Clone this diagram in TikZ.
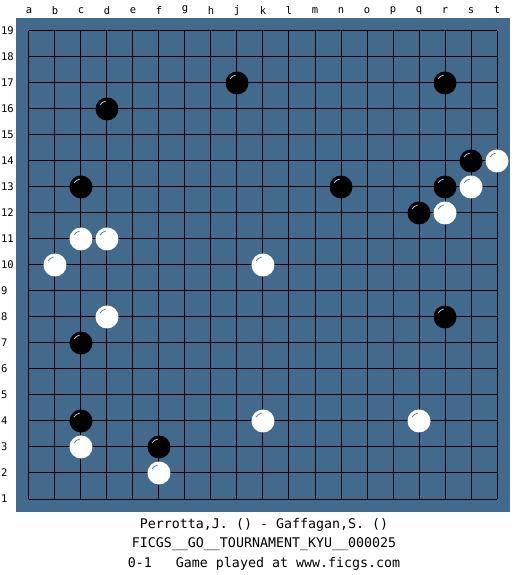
\documentclass[tikz,border=0pt]{standalone}
\usepackage{fontspec}
\setmonofont{DejaVu Sans Mono}
\definecolor{board}{RGB}{66,106,140}
\definecolor{shine}{RGB}{170,190,210}

\begin{document}
\begin{tikzpicture}[x=26pt, y=26pt]
    % Define styles
    \tikzstyle{stone} = [circle, minimum size=23pt, inner sep=0pt]
    \tikzstyle{black stone} = [stone, fill=black,
        path picture={\draw[shine, line width=0.9pt] (path picture bounding box.center)
            ++(100:8pt) arc[start angle=100, end angle=150, radius=8pt];}]
    \tikzstyle{white stone} = [stone, fill=white,
        path picture={\draw[board!80, line width=0.9pt] (path picture bounding box.center)
            ++(100:8pt) arc[start angle=100, end angle=150, radius=8pt];}]
    \tikzstyle{grid line} = [draw, black, line width=1pt]
    \tikzstyle{coord label} = [font=\ttfamily\fontsize{10.5}{11}\selectfont, inner sep=0pt]
    \tikzstyle{caption} = [font=\ttfamily\fontsize{13.3}{15}\selectfont, inner sep=0pt]

    \useasboundingbox (-1.115,-2.923) rectangle (19.077,19.192);

    % Board
    \fill[board] (-0.5,-0.5) rectangle (18.5,18.5);
    \foreach \k in {0,...,18} {
        \path[grid line] (\k,0) -- (\k,18);
        \path[grid line] (0,\k) -- (18,\k);
    }

    % Coordinates
    \foreach \c [count=\i from 0] in {a,b,c,d,e,f,g,h,j,k,l,m,n,o,p,q,r,s,t}
        \node[coord label] (col\c) at (\i,18.8) {\c};
    \foreach \r in {1,...,19}
        \node[coord label, anchor=west] (row\r) at (-1.08,\r-1) {\r};

    % Black stones
    \node[black stone] (j17) at (8,16) {};
    \node[black stone] (r17) at (16,16) {};
    \node[black stone] (d16) at (3,15) {};
    \node[black stone] (s14) at (17,13) {};
    \node[black stone] (c13) at (2,12) {};
    \node[black stone] (n13) at (12,12) {};
    \node[black stone] (r13) at (16,12) {};
    \node[black stone] (q12) at (15,11) {};
    \node[black stone] (r8) at (16,7) {};
    \node[black stone] (c7) at (2,6) {};
    \node[black stone] (c4) at (2,3) {};
    \node[black stone] (f3) at (5,2) {};

    % White stones
    \node[white stone] (t14) at (18,13) {};
    \node[white stone] (s13) at (17,12) {};
    \node[white stone] (r12) at (16,11) {};
    \node[white stone] (c11) at (2,10) {};
    \node[white stone] (d11) at (3,10) {};
    \node[white stone] (b10) at (1,9) {};
    \node[white stone] (k10) at (9,9) {};
    \node[white stone] (d8) at (3,7) {};
    \node[white stone] (k4) at (9,3) {};
    \node[white stone] (q4) at (15,3) {};
    \node[white stone] (c3) at (2,2) {};
    \node[white stone] (f2) at (5,1) {};

    % Game info
    \node[caption] (players) at (9.04,-1.0) {Perrotta,J. () - Gaffagan,S. ()};
    \node[caption] (event) at (9.04,-1.73) {FICGS\_\_GO\_\_TOURNAMENT\_KYU\_\_000025};
    \node[caption] (result) at (9.04,-2.5) {0-1\ \ \ Game played at www.ficgs.com};

\end{tikzpicture}
\end{document}
